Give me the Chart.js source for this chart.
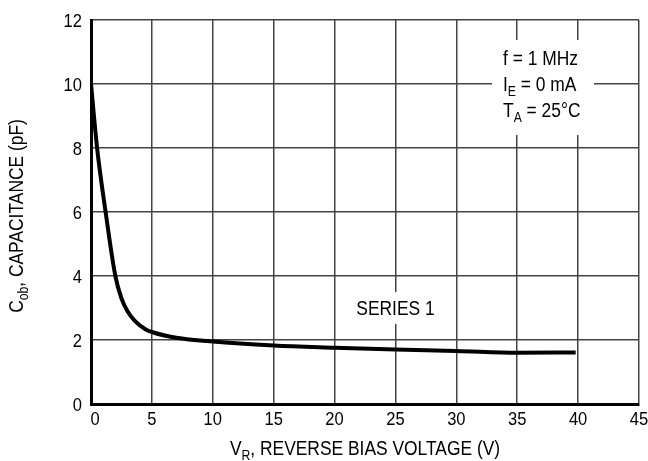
<!DOCTYPE html>
<html>
<head>
<meta charset="utf-8">
<script src="https://cdn.jsdelivr.net/npm/chart.js@4/dist/chart.umd.min.js"></script>
<style>
  html, body { margin: 0; padding: 0; background: #fff; }
  #wrap { width: 648px; height: 461px; position: relative; }
</style>
</head>
<body>
<div id="wrap"><canvas id="cob-chart"></canvas></div>
<script>
var FONT = "'Liberation Sans', Arial, sans-serif";
// no condensed face installed, so text is squeezed horizontally
var NARROW = 0.87;

// reverse bias voltage (V) and output capacitance (pF)
var voltage = [0, 0.5, 1.2, 2.0, 2.5, 3.0, 3.6, 4.5, 5, 7, 10, 15, 20, 25, 30, 35, 39.8];
var capacitance = [10.0, 8.0, 6.0, 4.0, 3.3, 2.9, 2.6, 2.33, 2.25, 2.07, 1.95, 1.83, 1.76, 1.70, 1.66, 1.60, 1.61];

var xTicks = [0, 5, 10, 15, 20, 25, 30, 35, 40, 45];
var yTicks = [0, 2, 4, 6, 8, 10, 12];

// text runs: [text, isSubscript]
var xTitle = [["V", false], ["R", true], [", REVERSE BIAS VOLTAGE (V)", false]];
var yTitle = [["C", false], ["ob", true], [", CAPACITANCE (pF)", false]];
var conditions = [
    [["f = 1 MHz", false]],
    [["I", false], ["E", true], [" = 0 mA", false]],
    [["T", false], ["A", true], [" = 25\u00B0C", false]]
];
var seriesName = "SERIES 1";

var mainSize = 20, subSize = 14, tickSize = 19;

var runWidth = function (ctx, runs) {
    var w = 0;
    runs.forEach(function (r) {
        ctx.font = (r[1] ? subSize : mainSize) + "px " + FONT;
        w += ctx.measureText(r[0]).width;
    });
    return w * NARROW;
};

var drawRuns = function (ctx, runs, x, y, align) {
    var w = runWidth(ctx, runs);
    var cx = align === "center" ? x - w / 2 : (align === "right" ? x - w : x);
    ctx.save();
    ctx.translate(cx, y);
    ctx.scale(NARROW, 1);
    ctx.textAlign = "left";
    ctx.textBaseline = "alphabetic";
    ctx.fillStyle = "#000";
    var pos = 0;
    runs.forEach(function (r) {
        ctx.font = (r[1] ? subSize : mainSize) + "px " + FONT;
        ctx.fillText(r[0], pos, r[1] ? 5 : 0);
        pos += ctx.measureText(r[0]).width;
    });
    ctx.restore();
};

var drawTickText = function (ctx, text, x, y, align) {
    ctx.save();
    ctx.font = tickSize + "px " + FONT;
    var w = ctx.measureText(text).width * NARROW;
    var cx = align === "center" ? x - w / 2 : x - w;
    ctx.translate(cx, y);
    ctx.scale(NARROW, 1);
    ctx.textAlign = "left";
    ctx.textBaseline = "alphabetic";
    ctx.fillStyle = "#000";
    ctx.fillText(text, 0, 0);
    ctx.restore();
};

var labelsPlugin = {
    id: "labels",
    beforeDatasetsDraw: function (chart) {
        var ctx = chart.ctx;
        var xs = chart.scales.x, ys = chart.scales.y;
        ctx.save();
        // white backing behind the test conditions and the series label
        ctx.fillStyle = "#fff";
        ctx.fillRect(492, 40, 102, 95);
        var sx = xs.getPixelForValue(25), sy = ys.getPixelForValue(3);
        ctx.fillRect(sx - 42, sy - 16, 84, 32);
        ctx.restore();
    },
    afterDraw: function (chart) {
        var ctx = chart.ctx;
        var xs = chart.scales.x, ys = chart.scales.y;
        var area = chart.chartArea;

        xTicks.forEach(function (v) {
            // the zero label sits just right of the heavy axis line
            var nudge = v === 0 ? 4 : 0;
            drawTickText(ctx, String(v), xs.getPixelForValue(v) + nudge, area.bottom + 21, "center");
        });
        yTicks.forEach(function (v) {
            drawTickText(ctx, String(v), area.left - 9, ys.getPixelForValue(v) + 7, "right");
        });

        conditions.forEach(function (line, i) {
            drawRuns(ctx, line, 503, 65 + i * 26, "left");
        });
        drawRuns(ctx, [[seriesName, false]], xs.getPixelForValue(25), ys.getPixelForValue(3) + 7, "center");

        drawRuns(ctx, xTitle, (area.left + area.right) / 2, 455, "center");

        ctx.save();
        ctx.translate(23, (area.top + area.bottom) / 2 + 4);
        ctx.rotate(-Math.PI / 2);
        drawRuns(ctx, yTitle, 0, 0, "center");
        ctx.restore();
    }
};

var points = voltage.map(function (v, i) {
    return { x: v, y: capacitance[i] };
});

new Chart(document.getElementById("cob-chart"), {
    type: "scatter",
    data: {
        datasets: [{
            label: seriesName,
            data: points,
            showLine: true,
            borderColor: "#000",
            borderWidth: 4,
            pointRadius: 0,
            cubicInterpolationMode: "monotone",
            fill: false
        }]
    },
    options: {
        responsive: true,
        maintainAspectRatio: false,
        animation: false,
        layout: { padding: { top: 20, right: 9, left: 0, bottom: 0 } },
        plugins: {
            legend: { display: false },
            tooltip: { enabled: false }
        },
        scales: {
            x: {
                type: "linear",
                min: xTicks[0],
                max: xTicks[xTicks.length - 1],
                afterFit: function (scale) { scale.height = 57; },
                afterBuildTicks: function (scale) {
                    scale.ticks = xTicks.map(function (v) { return { value: v }; });
                },
                ticks: { display: false },
                grid: { color: "#444", lineWidth: 1.5, drawTicks: false },
                border: { color: "#000", width: 3 }
            },
            y: {
                type: "linear",
                min: yTicks[0],
                max: yTicks[yTicks.length - 1],
                afterFit: function (scale) { scale.width = 91; },
                afterBuildTicks: function (scale) {
                    scale.ticks = yTicks.map(function (v) { return { value: v }; });
                },
                ticks: { display: false },
                grid: { color: "#444", lineWidth: 1.5, drawTicks: false },
                border: { color: "#000", width: 3 }
            }
        }
    },
    plugins: [labelsPlugin]
});
</script>
</body>
</html>
